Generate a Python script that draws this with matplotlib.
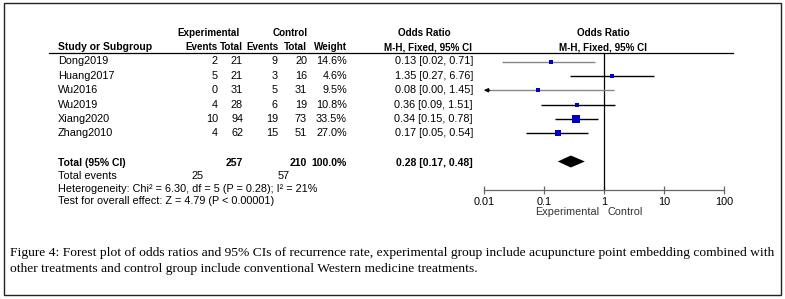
import numpy as np
import matplotlib
matplotlib.use("Agg")
import matplotlib.pyplot as plt
from matplotlib.lines import Line2D
from matplotlib.patches import Rectangle

# study data
studies = ["Dong2019", "Huang2017", "Wu2016", "Wu2019", "Xiang2020", "Zhang2010"]
exp_events = [2, 5, 0, 4, 10, 4]
exp_total = [21, 21, 31, 28, 94, 62]
ctl_events = [9, 3, 5, 6, 19, 15]
ctl_total = [20, 16, 31, 19, 73, 51]
weights = [14.6, 4.6, 9.5, 10.8, 33.5, 27.0]
odds = [0.13, 1.35, 0.08, 0.36, 0.34, 0.17]
ci_low = [0.02, 0.27, 0.00, 0.09, 0.15, 0.05]
ci_high = [0.71, 6.76, 1.45, 1.51, 0.78, 0.54]

pooled = [0.28, 0.17, 0.48]
sum_exp_total, sum_ctl_total = 257, 210
sum_exp_events, sum_ctl_events = 25, 57
heterogeneity = "Heterogeneity: Chi² = 6.30, df = 5 (P = 0.28); I² = 21%"
overall = "Test for overall effect: Z = 4.79 (P < 0.00001)"
axis_ticks = [0.01, 0.1, 1, 10, 100]
tick_labels = ["0.01", "0.1", "1", "10", "100"]
caption = ("Figure 4: Forest plot of odds ratios and 95% CIs of recurrence rate, experimental group include "
           "acupuncture point embedding combined with\nother treatments and control group include "
           "conventional Western medicine treatments.")

W, H = 785, 299
fig = plt.figure(figsize=(W / 100, H / 100), dpi=100)
plt.rcParams['font.family'] = ['Liberation Sans', 'DejaVu Sans']


def fx(px):
    return px / W


def fy(py):
    return 1 - py / H


FS = 7.8
HFS = 7.1


def put(x, y, s, ha="left", bold=False, size=FS):
    fig.text(fx(x), fy(y), s, ha=ha, va="center", fontsize=size,
             fontweight="bold" if bold else "normal", color="black")


# outer frame
fig.add_artist(Rectangle((fx(4), fy(295)), fx(781) - fx(4), fy(3) - fy(295),
                         transform=fig.transFigure, fill=False, lw=1.0, ec="#222222"))

# forest plot axes, y in pixel rows
top, bottom = 53, 190
ax = fig.add_axes([fx(484), fy(bottom), fx(724) - fx(484), (bottom - top) / H])
ax.set_xscale("log")
ax.set_xlim(axis_ticks[0], axis_ticks[-1])
ax.set_ylim(bottom, top)
ax.patch.set_alpha(0)
for s in ["top", "left", "right"]:
    ax.spines[s].set_visible(False)
ax.spines["bottom"].set_color("#666666")
ax.spines["bottom"].set_linewidth(0.9)
ax.set_yticks([])
ax.set_xticks(axis_ticks)
ax.set_xticklabels(tick_labels, fontsize=FS)
ax.xaxis.set_minor_locator(matplotlib.ticker.NullLocator())
ax.tick_params(axis="x", direction="inout", length=6, width=0.9, color="#666666", pad=2)
ax.axvline(1, color="black", lw=0.9)

row0, step = 61.5, 14.35
rows_y = [row0 + step * i for i in range(len(studies))]
line_colors = ["#888888", "black", "#888888", "black", "black", "black"]

for i, y in enumerate(rows_y):
    lo = max(ci_low[i], axis_ticks[0])
    ax.plot([lo, ci_high[i]], [y, y], color=line_colors[i], lw=1.0, solid_capstyle="butt")
    if ci_low[i] < axis_ticks[0]:
        ax.annotate("", xy=(lo, y), xytext=(lo * 1.25, y),
                    arrowprops=dict(arrowstyle="-|>", color="black", lw=0.8, mutation_scale=6,
                                    shrinkA=0, shrinkB=0))
    side = (2.6 + 0.14 * weights[i]) * 0.72
    ax.plot(odds[i], y, marker="s", ms=side, color="#0000c0", mec="#0000c0", mew=0, zorder=3)

    put(58, y, studies[i])
    put(218, y, str(exp_events[i]), ha="right")
    put(243, y, str(exp_total[i]), ha="right")
    put(278, y, str(ctl_events[i]), ha="right")
    put(307, y, str(ctl_total[i]), ha="right")
    put(347, y, f"{weights[i]:.1f}%", ha="right")
    put(473, y, f"{odds[i]:.2f} [{ci_low[i]:.2f}, {ci_high[i]:.2f}]", ha="right")

# pooled diamond
ty = 161.5
est, plo, phi = pooled
ax.fill([plo, est, phi, est], [ty, ty - 6, ty, ty + 6], color="black", lw=0)

# headers
put(209, 33, "Experimental", ha="center", bold=True, size=HFS)
put(290, 33, "Control", ha="center", bold=True, size=HFS)
put(424, 33, "Odds Ratio", ha="center", bold=True, size=HFS)
put(603, 33, "Odds Ratio", ha="center", bold=True, size=HFS)
hy = 47.5
put(58, hy, "Study or Subgroup", bold=True, size=7.5)
put(218, hy, "Events", ha="right", bold=True, size=HFS)
put(243, hy, "Total", ha="right", bold=True, size=HFS)
put(279, hy, "Events", ha="right", bold=True, size=HFS)
put(307, hy, "Total", ha="right", bold=True, size=HFS)
put(347, hy, "Weight", ha="right", bold=True, size=HFS)
put(428, hy, "M-H, Fixed, 95% CI", ha="center", bold=True, size=HFS)
put(603, hy, "M-H, Fixed, 95% CI", ha="center", bold=True, size=HFS)
fig.add_artist(Line2D([fx(49), fx(733)], [fy(53), fy(53)], transform=fig.transFigure,
                      color="black", lw=0.9))

# totals
put(58, 163, "Total (95% CI)", bold=True, size=7.5)
put(243, 163, str(sum_exp_total), ha="right", bold=True, size=7.5)
put(307, 163, str(sum_ctl_total), ha="right", bold=True, size=7.5)
put(347, 163, "100.0%", ha="right", bold=True, size=7.5)
put(473, 163, f"{est:.2f} [{plo:.2f}, {phi:.2f}]", ha="right", bold=True, size=7.5)
put(58, 176, "Total events")
put(204, 176, str(sum_exp_events), ha="right")
put(290, 176, str(sum_ctl_events), ha="right")
put(58, 188.5, heterogeneity)
put(58, 201, overall)

ax.annotate("Experimental", xy=(1, 0), xycoords=("data", "axes fraction"),
            xytext=(-5, -22), textcoords="offset pixels", ha="right", va="center",
            fontsize=FS, color="#333333")
ax.annotate("Control", xy=(1, 0), xycoords=("data", "axes fraction"),
            xytext=(4, -22), textcoords="offset pixels", ha="left", va="center",
            fontsize=FS, color="#333333")

fig.text(fx(10), fy(261), caption, ha="left", va="center", fontsize=9.7,
         family="Liberation Serif", linespacing=1.45)

plt.savefig("out.png", dpi=100)
